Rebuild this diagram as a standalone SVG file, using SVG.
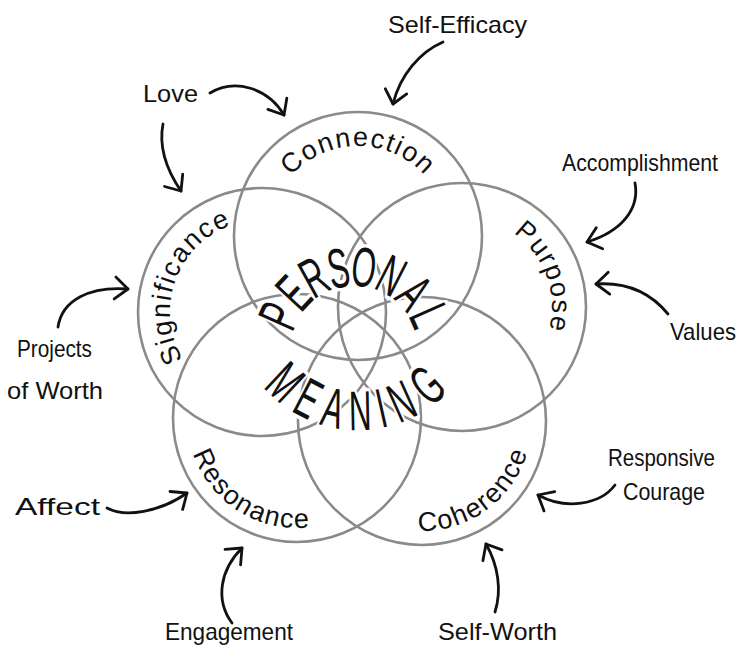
<svg xmlns="http://www.w3.org/2000/svg" width="741" height="652" viewBox="0 0 741 652">
  <style>
    .ring { fill: none; stroke: #8a8a8a; stroke-width: 2.6; }
    .lbl { font-family: "Liberation Sans", "DejaVu Sans", sans-serif; font-size: 27px; letter-spacing: 1.5px; fill: #111; }
    .big { font-family: "Liberation Sans", "DejaVu Sans", sans-serif; font-size: 56px; text-anchor: middle; fill: #111;
           stroke: #fff; stroke-width: 7px; stroke-linejoin: round; paint-order: stroke; }
    .ext { font-family: "Liberation Sans", "DejaVu Sans", sans-serif; font-size: 24px; fill: #111; }
    .arrow { fill: none; stroke: #111; stroke-width: 2.8; stroke-linecap: round; marker-end: url(#head); }
  </style>
  <defs>
    <marker id="head" markerUnits="userSpaceOnUse" markerWidth="30" markerHeight="30" viewBox="-16 -15 20 30" refX="0" refY="0" orient="auto">
      <path d="M -13 -11 L 0 0 L -13 11" fill="none" stroke="#111" stroke-width="2.8" stroke-linecap="round" stroke-linejoin="round"/>
    </marker>
    <!-- baselines for the curved circle labels -->
    <path id="p-connection" d="M 268 236 A 90 90 0 0 1 448 236"/>
    <path id="p-purpose" d="M 431.2 222.4 A 90 90 0 0 1 492.8 391.6"/>
    <path id="p-significance" d="M 230.5 398.5 A 92 92 0 0 1 293.5 225.5"/>
    <path id="p-resonance" d="M 203.7 359.7 A 110 110 0 0 0 390.3 476.3"/>
    <path id="p-coherence" d="M 333 485.7 A 110 110 0 0 0 511 356.3"/>
  </defs>

  <rect width="741" height="652" fill="#fff"/>

  <!-- five overlapping circles -->
  <g id="connection">
    <circle class="ring" cx="358" cy="236" r="124"/>
    <text class="lbl"><textPath href="#p-connection" startOffset="50%" text-anchor="middle">Connection</textPath></text>
  </g>
  <g id="significance">
    <circle class="ring" cx="262" cy="312" r="124"/>
    <text class="lbl"><textPath href="#p-significance" startOffset="50%" text-anchor="middle">Significance</textPath></text>
  </g>
  <g id="purpose">
    <circle class="ring" cx="462" cy="307" r="124"/>
    <text class="lbl"><textPath href="#p-purpose" startOffset="50%" text-anchor="middle">Purpose</textPath></text>
  </g>
  <g id="resonance">
    <circle class="ring" cx="297" cy="418" r="124"/>
    <text class="lbl"><textPath href="#p-resonance" startOffset="50%" text-anchor="middle">Resonance</textPath></text>
  </g>
  <g id="coherence">
    <circle class="ring" cx="422" cy="421" r="124"/>
    <text class="lbl"><textPath href="#p-coherence" startOffset="50%" text-anchor="middle">Coherence</textPath></text>
  </g>

  <!-- central title, letters fanned around two arcs -->
  <g id="personal-meaning">
    <text class="big" transform="translate(354 349) rotate(-66) translate(0 -63) scale(0.56 1)">P</text>
    <text class="big" transform="translate(354 349) rotate(-47) translate(0 -63) scale(0.56 1)">E</text>
    <text class="big" transform="translate(354 349) rotate(-29) translate(0 -63) scale(0.56 1)">R</text>
    <text class="big" transform="translate(354 349) rotate(-11) translate(0 -63) scale(0.56 1)">S</text>
    <text class="big" transform="translate(354 349) rotate(7) translate(0 -63) scale(0.56 1)">O</text>
    <text class="big" transform="translate(354 349) rotate(27) translate(0 -63) scale(0.56 1)">N</text>
    <text class="big" transform="translate(354 349) rotate(47) translate(0 -63) scale(0.56 1)">A</text>
    <text class="big" transform="translate(354 349) rotate(66) translate(0 -63) scale(0.56 1)">L</text>

    <text class="big" transform="translate(358 304) rotate(43) translate(0 126) scale(0.56 1)">M</text>
    <text class="big" transform="translate(358 304) rotate(27.6) translate(0 126) scale(0.56 1)">E</text>
    <text class="big" transform="translate(358 304) rotate(13.4) translate(0 126) scale(0.56 1)">A</text>
    <text class="big" transform="translate(358 304) rotate(-1.2) translate(0 126) scale(0.56 1)">N</text>
    <text class="big" transform="translate(358 304) rotate(-12.6) translate(0 126) scale(0.56 1)">I</text>
    <text class="big" transform="translate(358 304) rotate(-24.2) translate(0 126) scale(0.56 1)">N</text>
    <text class="big" transform="translate(358 304) rotate(-40.5) translate(0 126) scale(0.56 1)">G</text>
  </g>

  <!-- outer influences -->
  <g id="self-efficacy"><text class="ext" x="388" y="33" textLength="139" lengthAdjust="spacingAndGlyphs">Self-Efficacy</text></g>
  <g id="love"><text class="ext" x="143" y="102" font-size="26" textLength="55" lengthAdjust="spacingAndGlyphs">Love</text></g>
  <g id="accomplishment"><text class="ext" x="562" y="171" textLength="156" lengthAdjust="spacingAndGlyphs">Accomplishment</text></g>
  <g id="values"><text class="ext" x="670" y="340" textLength="66" lengthAdjust="spacingAndGlyphs">Values</text></g>
  <g id="projects-of-worth">
    <text class="ext" x="17" y="357" textLength="75" lengthAdjust="spacingAndGlyphs">Projects</text>
    <text class="ext" x="7" y="399" textLength="96" lengthAdjust="spacingAndGlyphs">of Worth</text>
  </g>
  <g id="affect"><text class="ext" x="15" y="515" font-size="29" textLength="85" lengthAdjust="spacingAndGlyphs">Affect</text></g>
  <g id="engagement"><text class="ext" x="165" y="640" textLength="128" lengthAdjust="spacingAndGlyphs">Engagement</text></g>
  <g id="self-worth"><text class="ext" x="438" y="640" font-size="25" textLength="119" lengthAdjust="spacingAndGlyphs">Self-Worth</text></g>
  <g id="responsive-courage">
    <text class="ext" x="608" y="466" textLength="107" lengthAdjust="spacingAndGlyphs">Responsive</text>
    <text class="ext" x="623" y="500" textLength="82" lengthAdjust="spacingAndGlyphs">Courage</text>
  </g>

  <!-- connectors -->
  <g id="connectors">
    <path class="arrow" d="M 443 42 C 420 52, 400 75, 393 104"/>
    <path class="arrow" d="M 210 93 C 235 78, 268 88, 284 115"/>
    <path class="arrow" d="M 163 124 C 158 150, 168 172, 181 191"/>
    <path class="arrow" d="M 635 183 C 640 210, 620 232, 587 242"/>
    <path class="arrow" d="M 668 314 C 650 292, 625 282, 596 284"/>
    <path class="arrow" d="M 58 327 C 62 300, 90 286, 128 289"/>
    <path class="arrow" d="M 107 508 C 125 518, 160 512, 187 493"/>
    <path class="arrow" d="M 232 623 C 215 600, 220 570, 242 548"/>
    <path class="arrow" d="M 495 612 C 502 590, 498 565, 486 544"/>
    <path class="arrow" d="M 615 485 C 600 505, 565 510, 538 495"/>
  </g>
</svg>
